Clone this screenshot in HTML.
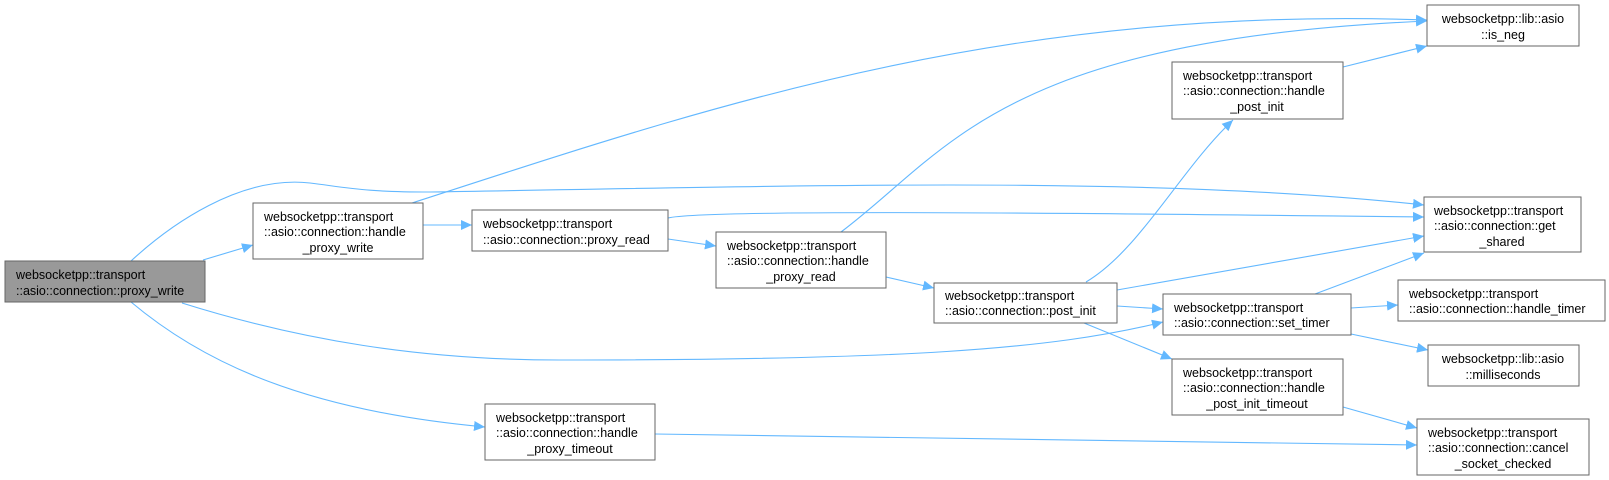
<!DOCTYPE html>
<html><head><meta charset="utf-8"><style>
html,body{margin:0;padding:0;background:#fff;}
svg{display:block;}
text{font-family:"Liberation Sans",Arial,sans-serif;font-size:12.5px;fill:#000;}
.b{fill:#fff;stroke:#666;stroke-width:1;}
.e{fill:none;stroke:#63b8ff;stroke-width:1.1;}
</style></head><body>
<svg width="1609" height="480" viewBox="0 0 1609 480" xmlns="http://www.w3.org/2000/svg">
<defs><marker id="a" markerWidth="12" markerHeight="10" refX="11" refY="5" orient="auto" markerUnits="userSpaceOnUse"><path d="M0,0 L11,5 L0,10 z" fill="#63b8ff"/></marker></defs>
<g class="e" marker-end="url(#a)">
<path d="M131,261 C170,225 240,175 310,183 C350,188 365,192 430,192 C800,186 1150,175 1424,205"/>
<path d="M203,260 L253,245"/>
<path d="M182,303 C300,340 420,360 560,360 C900,360 1050,350 1163,322"/>
<path d="M131,302 C200,360 300,410 485,427"/>
<path d="M412,203 C700,110 1000,5 1427,20"/>
<path d="M423,225 L472,225"/>
<path d="M668,218 C700,210 1000,212 1424,217"/>
<path d="M668,239 L716,246"/>
<path d="M841,232 C950,150 1000,40 1427,21"/>
<path d="M886,277 L934,288"/>
<path d="M1086,282 C1140,250 1180,170 1233,120"/>
<path d="M1117,290 L1424,236"/>
<path d="M1117,306 L1163,309"/>
<path d="M1084,323 L1172,359"/>
<path d="M1343,67 L1427,46"/>
<path d="M1315,294 L1424,253"/>
<path d="M1351,308 L1398,305"/>
<path d="M1351,334 L1428,350"/>
<path d="M1343,407 L1417,428"/>
<path d="M655,434 L1417,445"/>
</g>
<rect x="5" y="261" width="200" height="41" fill="#999" stroke="#666"/>
<text x="16" y="279">websocketpp::transport</text><text x="16" y="295">::asio::connection::proxy_write</text>
<rect class="b" x="253" y="203" width="170" height="56"/>
<text x="264" y="221">websocketpp::transport</text><text x="264" y="236">::asio::connection::handle</text><text x="338" y="252" text-anchor="middle">_proxy_write</text>
<rect class="b" x="472" y="210" width="196" height="41"/>
<text x="483" y="228">websocketpp::transport</text><text x="483" y="244">::asio::connection::proxy_read</text>
<rect class="b" x="716" y="232" width="170" height="56"/>
<text x="727" y="250">websocketpp::transport</text><text x="727" y="265">::asio::connection::handle</text><text x="801" y="281" text-anchor="middle">_proxy_read</text>
<rect class="b" x="934" y="283" width="183" height="40"/>
<text x="945" y="300">websocketpp::transport</text><text x="945" y="315">::asio::connection::post_init</text>
<rect class="b" x="1172" y="62" width="171" height="57"/>
<text x="1183" y="80">websocketpp::transport</text><text x="1183" y="95">::asio::connection::handle</text><text x="1257" y="111" text-anchor="middle">_post_init</text>
<rect class="b" x="1427" y="5" width="152" height="41"/>
<text x="1503" y="23" text-anchor="middle">websocketpp::lib::asio</text><text x="1503" y="39" text-anchor="middle">::is_neg</text>
<rect class="b" x="1424" y="197" width="157" height="55"/>
<text x="1434" y="215">websocketpp::transport</text><text x="1434" y="230">::asio::connection::get</text><text x="1502" y="246" text-anchor="middle">_shared</text>
<rect class="b" x="1163" y="294" width="188" height="41"/>
<text x="1174" y="312">websocketpp::transport</text><text x="1174" y="327">::asio::connection::set_timer</text>
<rect class="b" x="1398" y="280" width="207" height="41"/>
<text x="1409" y="298">websocketpp::transport</text><text x="1409" y="313">::asio::connection::handle_timer</text>
<rect class="b" x="1428" y="345" width="151" height="41"/>
<text x="1503" y="363" text-anchor="middle">websocketpp::lib::asio</text><text x="1503" y="379" text-anchor="middle">::milliseconds</text>
<rect class="b" x="1172" y="359" width="171" height="56"/>
<text x="1183" y="377">websocketpp::transport</text><text x="1183" y="392">::asio::connection::handle</text><text x="1257" y="408" text-anchor="middle">_post_init_timeout</text>
<rect class="b" x="485" y="404" width="170" height="56"/>
<text x="496" y="422">websocketpp::transport</text><text x="496" y="437">::asio::connection::handle</text><text x="570" y="453" text-anchor="middle">_proxy_timeout</text>
<rect class="b" x="1417" y="419" width="172" height="56"/>
<text x="1428" y="437">websocketpp::transport</text><text x="1428" y="452">::asio::connection::cancel</text><text x="1503" y="468" text-anchor="middle">_socket_checked</text>
</svg>
</body></html>
